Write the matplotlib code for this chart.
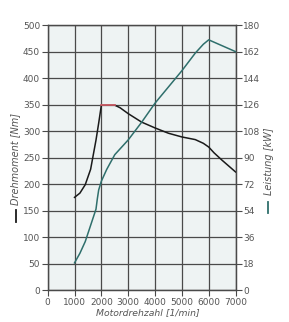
import matplotlib
matplotlib.use("Agg")
import matplotlib.pyplot as plt
from matplotlib.lines import Line2D

# engine speed [1/min]
rpm_torque = [1000, 1200, 1400, 1600, 1800, 1900, 2000, 2500, 2700, 3000, 3500,
              4000, 4500, 5000, 5500, 5800, 6000, 6200, 6500, 7000]
torque_nm = [175, 183, 199, 228, 283, 315, 349, 349, 344, 333, 317,
             306, 296, 289, 284, 277, 270, 259, 245, 223]

# flat max-torque plateau (drawn in red)
rpm_plateau = [1980, 2500]
torque_plateau = [349, 349]

rpm_power = [1000, 1200, 1400, 1600, 1800, 1850, 1900, 2000, 2200, 2500, 3000,
             3500, 4000, 4500, 5000, 5500, 5800, 6000, 6500, 7000]
power_kw = [18.5, 25, 33, 44, 55, 62, 68, 74, 82, 92, 102,
            114, 127, 138, 149, 161, 167, 170, 166, 162]

x_ticks = list(range(0, 7001, 1000))
y_ticks_left = list(range(0, 501, 50))
y_ticks_right = list(range(0, 181, 18))

GRID = '#4a4a4a'
TXT = '#555555'
TEAL = '#2f6f6c'

fig = plt.figure(figsize=(2.89, 3.22), dpi=100)
fig.patch.set_facecolor('white')
ax = fig.add_axes([0.165, 0.099, 0.65, 0.823])
ax.set_facecolor('#eef3f3')

ax.plot(rpm_torque, torque_nm, color='#1a1a1a', lw=1.1, zorder=3)
ax.plot(rpm_plateau, torque_plateau, color='#d9606a', lw=1.2, zorder=4)

ax.set_xlim(0, 7000)
ax.set_ylim(0, 500)
ax.set_xticks(x_ticks)
ax.set_yticks(y_ticks_left)
ax.grid(True, color=GRID, lw=0.9)
ax.set_axisbelow(True)
ax.tick_params(colors=GRID, labelcolor=TXT, labelsize=6.5, length=4, width=0.8, pad=1.5)
for sp in ax.spines.values():
    sp.set_edgecolor(GRID)
    sp.set_linewidth(0.9)

ax2 = ax.twinx()
ax2.plot(rpm_power, power_kw, color=TEAL, lw=1.1, zorder=3)
ax2.set_ylim(0, 180)
ax2.set_yticks(y_ticks_right)
ax2.tick_params(colors=GRID, labelcolor=TXT, labelsize=6.5, length=4, width=0.8, pad=1.5)
for sp in ax2.spines.values():
    sp.set_edgecolor(GRID)
    sp.set_linewidth(0.9)

fig.text(0.513, 0.028, 'Motordrehzahl [1/min]', ha='center', va='center',
         fontsize=6.7, style='italic', color=TXT)
fig.text(0.053, 0.506, 'Drehmoment [Nm]', ha='center', va='center', rotation=90,
         fontsize=7, style='italic', color=TXT)
fig.text(0.93, 0.5, 'Leistung [kW]', ha='center', va='center', rotation=90,
         fontsize=7, style='italic', color=TXT)

# coloured dashes in front of the axis labels
fig.add_artist(Line2D([0.055, 0.055], [0.312, 0.348], color='#1a1a1a', lw=1.3,
                      transform=fig.transFigure))
fig.add_artist(Line2D([0.928, 0.928], [0.34, 0.372], color=TEAL, lw=1.3,
                      transform=fig.transFigure))

plt.savefig('out.png', dpi=100, facecolor=fig.get_facecolor())
plt.close()
